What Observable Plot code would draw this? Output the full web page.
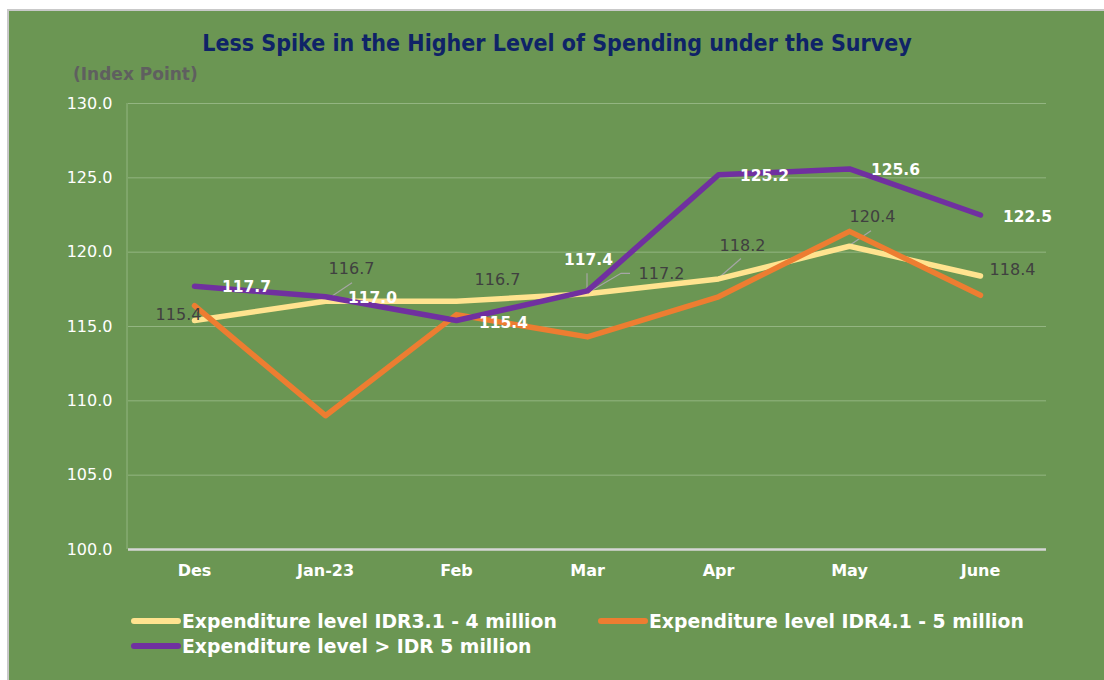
<!DOCTYPE html>
<html>
<head>
<meta charset="utf-8">
<script src="https://cdn.jsdelivr.net/npm/d3@7"></script>
<script src="https://cdn.jsdelivr.net/npm/@observablehq/plot@0.6"></script>
<style>
  html, body { margin: 0; padding: 0; background: #ffffff; }
  #page { position: relative; width: 1104px; height: 680px; overflow: hidden; background: #ffffff; }
  #panel { position: absolute; left: 7px; top: 9px; right: 0; bottom: 0; background: #6b9653;
           border-left: 2px solid #c9c9c9; border-top: 2px solid #c9c9c9; }
  #title { position: absolute; left: 0; width: 1114px; top: 30px; text-align: center;
           font-family: "DejaVu Sans", sans-serif; font-weight: bold; font-size: 23px; color: #0f2367;
           font-stretch: condensed; }
  #unit { position: absolute; left: 73px; top: 64px; font-family: "DejaVu Sans", sans-serif;
          font-weight: bold; font-size: 17px; color: #5f5f5f; }
  #chart { position: absolute; left: 0; top: 0; }
  .leg { position: absolute; font-family: "DejaVu Sans", sans-serif; font-weight: bold; font-size: 18.8px;
         color: #ffffff; white-space: nowrap; display: flex; align-items: center; height: 24px; }
  .sw { display: inline-block; width: 50px; height: 6px; border-radius: 3px; margin-right: 1px; }
</style>
</head>
<body>
<div id="page">
  <div id="panel"></div>
  <div id="title">Less Spike in the Higher Level of Spending under the Survey</div>
  <div id="unit">(Index Point)</div>
  <div id="chart"></div>
  <div id="legend"></div>
</div>
<script>
// ---- data ----
const months = ["Des", "Jan-23", "Feb", "Mar", "Apr", "May", "June"];
const seriesNames = [
  "Expenditure level IDR3.1 - 4 million",
  "Expenditure level IDR4.1 - 5 million",
  "Expenditure level > IDR 5 million"
];
const level31to4 = [115.4, 116.7, 116.7, 117.2, 118.2, 120.4, 118.4];
const level41to5 = [116.4, 109.0, 115.8, 114.3, 117.0, 121.4, 117.1];
const levelAbove5 = [117.7, 117.0, 115.4, 117.4, 125.2, 125.6, 122.5];
const yTicks = [100, 105, 110, 115, 120, 125, 130];

// ---- styles / layout (not data) ----
const colors = ["#ffe38f", "#ed7d31", "#7030a0"];
const yellowLabelOffsets = [[-16, -6], [26, -32], [41, -21], [74, -20], [24, -33], [23, -29], [32, -6]];
const purpleLabelOffsets = [[52, 1], [47, 1], [47, 2], [1, -31], [46, 1], [46, 1], [47, 2]];
const leaders = [
  [0, 1, [[0, 0], [27, -18]]],
  [0, 3, [[0, 0], [34, -20], [43, -20]]],
  [0, 4, [[0, 0], [23, -20]]],
  [0, 5, [[0, 0], [22, -15]]],
  [2, 3, [[0, -17], [0, 0]]]
];

const seriesValues = [level31to4, level41to5, levelAbove5];
const table = seriesValues.flatMap((vals, s) =>
  vals.map((v, i) => ({series: seriesNames[s], month: months[i], value: v}))
);

const font = "DejaVu Sans, sans-serif";

const leaderMark = (index, scales, values, dimensions) => {
  const g = d3.create("svg:g");
  g.append("line")
    .attr("x1", dimensions.marginLeft - 1).attr("x2", dimensions.marginLeft - 1)
    .attr("y1", scales.y(130)).attr("y2", scales.y(100))
    .attr("stroke", "#93b581").attr("stroke-width", 1);
  for (const [s, m, pts] of leaders) {
    const x0 = scales.x(months[m]);
    const y0 = scales.y(seriesValues[s][m]);
    g.append("polyline")
      .attr("points", pts.map(([dx, dy]) => `${x0 + dx},${y0 + dy}`).join(" "))
      .attr("fill", "none").attr("stroke", "#a6a6a6").attr("stroke-width", 1.2);
  }
  return g.node();
};

const labelMarks = [];
months.forEach((m, i) => {
  labelMarks.push(Plot.text([{month: m, value: level31to4[i]}], {
    x: "month", y: "value", text: d => d.value.toFixed(1),
    dx: yellowLabelOffsets[i][0], dy: yellowLabelOffsets[i][1],
    fill: "#404040", fontSize: 16, fontFamily: font, textAnchor: "middle"
  }));
  labelMarks.push(Plot.text([{month: m, value: levelAbove5[i]}], {
    x: "month", y: "value", text: d => d.value.toFixed(1),
    dx: purpleLabelOffsets[i][0], dy: purpleLabelOffsets[i][1],
    fill: "#ffffff", fontSize: 15.5, fontWeight: "bold", fontFamily: font, textAnchor: "middle"
  }));
});

const chart = Plot.plot({
  width: 1104,
  height: 600,
  marginLeft: 128,
  marginRight: 58,
  marginTop: 103,
  marginBottom: 51,
  style: {background: "transparent", fontFamily: font, overflow: "visible"},
  x: {type: "point", domain: months, padding: 0.5, label: null},
  y: {domain: [100, 130], label: null},
  color: {domain: seriesNames, range: colors},
  marks: [
    Plot.gridY(yTicks.filter(t => t > 100), {stroke: "#93b581", strokeOpacity: 1, strokeWidth: 1}),
    Plot.ruleY([100], {stroke: "#d6d6d6", strokeWidth: 2.5}),
    Plot.axisY(yTicks, {tickSize: 0, tickPadding: 16, tickFormat: d => d.toFixed(1),
      fill: "#ffffff", fontSize: 16, fontFamily: font, label: null}),
    Plot.axisX(months, {tickSize: 0, tickPadding: 15, fill: "#ffffff", fontSize: 16,
      fontWeight: "bold", fontFamily: font, label: null}),
    leaderMark,
    ...seriesNames.map((name, s) => Plot.line(table.filter(d => d.series === name), {
      x: "month", y: "value", stroke: colors[s], strokeWidth: 5.5,
      strokeLinecap: "round", strokeLinejoin: "round"
    })),
    ...labelMarks
  ]
});
document.getElementById("chart").appendChild(chart);

// legend
const legendPos = [[131, 609], [598, 609], [131, 634]];
const legend = document.getElementById("legend");
seriesNames.forEach((name, s) => {
  const div = document.createElement("div");
  div.className = "leg";
  div.style.left = legendPos[s][0] + "px";
  div.style.top = legendPos[s][1] + "px";
  const sw = document.createElement("span");
  sw.className = "sw";
  sw.style.background = colors[s];
  div.appendChild(sw);
  div.appendChild(document.createTextNode(name));
  legend.appendChild(div);
});
</script>
</body>
</html>
